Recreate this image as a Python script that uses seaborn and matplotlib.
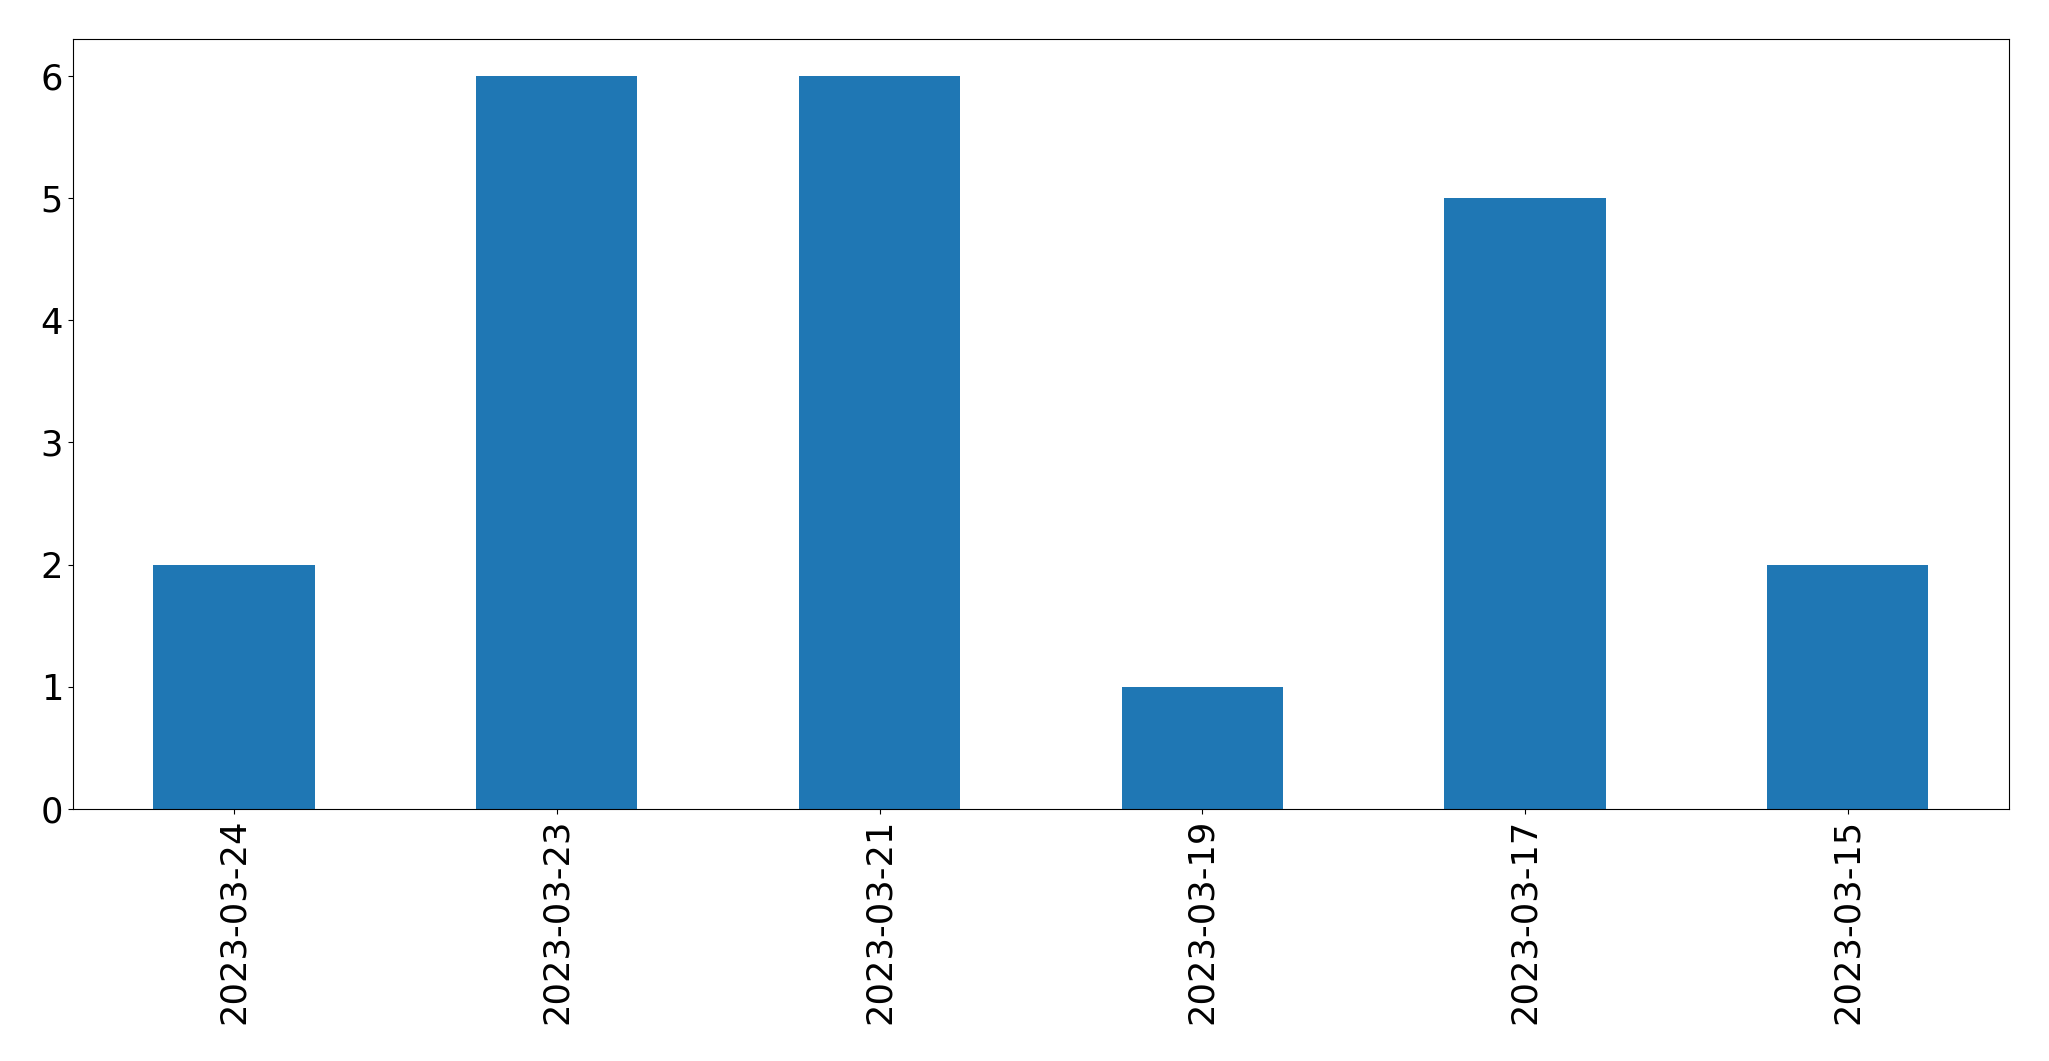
import pandas as pd
import seaborn as sns
import matplotlib.pyplot as plt

dates = ['2023-03-24', '2023-03-23', '2023-03-21', '2023-03-19', '2023-03-17', '2023-03-15']
counts = [2, 6, 6, 1, 5, 2]

df = pd.DataFrame({'date': dates, 'count': counts})

fig = plt.figure(figsize=(20.49, 10.61), dpi=100)
ax = fig.add_axes([0.0355, 0.2375, 0.945, 0.7257])

sns.barplot(df, x='date', y='count', color='#1f77b4', saturation=1, width=0.5, ax=ax)

ax.set_xlim(-0.5, len(dates) - 0.5)
ax.set_ylim(0, 6.3)
ax.set_xlabel('')
ax.set_ylabel('')
ax.tick_params(axis='both', labelsize=25.4)
plt.setp(ax.get_xticklabels(), rotation=90)

fig.savefig('out.png', dpi=100)
